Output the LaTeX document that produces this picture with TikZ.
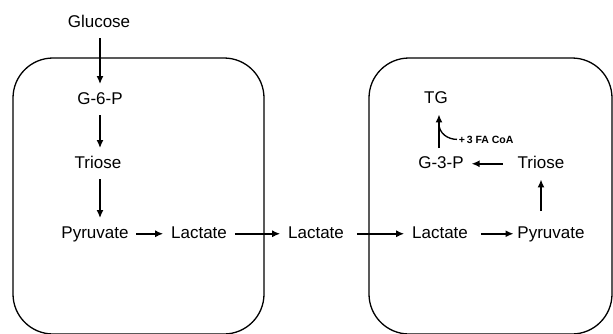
\documentclass[tikz,border=0pt]{standalone}
\usepackage{fontspec}
\setmainfont{Liberation Sans}
\usetikzlibrary{arrows.meta}
\begin{document}
\begin{tikzpicture}[x=1pt,y=-1pt,line width=1.8pt]
        \tikzstyle{metab}=[anchor=base,inner xsep=7pt,inner ysep=7pt,text height=12pt,text depth=3.5pt,font=\fontsize{17}{20}\selectfont]
        \tikzstyle{flow}=[draw,-{Latex[length=8pt,width=7pt]}]
        \tikzstyle{cell}=[draw,line width=1.3pt,rounded corners=40pt]
       \useasboundingbox (0,0) rectangle (613,333);
       \begin{scope}
         % the two cells
         \draw [cell] (13,58) rectangle (264,334);
         \draw [cell] (369,58) rectangle (612,334);
         \node [metab] (glc) at (99,27) {Glucose};
         \node [metab] (g6p) at (100,104) {G-6-P};
         \node [metab] (tri) at (98,168) {Triose};
         \node [metab] (pyr) at (95,238) {Pyruvate};
         \node [metab] (lac1) at (199,238) {Lactate};
         \node [metab] (lac2) at (316,238) {Lactate};
         \node [metab] (lac3) at (440,238) {Lactate};
         \node [metab] (pyr2) at (551,238) {Pyruvate};
         \node [metab] (tri2) at (541,168) {Triose};
         \node [metab] (g3p) at (441,168) {G-3-P};
         \node [metab] (tg) at (436,103) {TG};
         \node [anchor=base west,inner sep=1pt,font=\fontsize{10.5}{13}\selectfont\bfseries] (fa) at (457,143) {+\,3 FA CoA};
         \coordinate (br) at (439,124);
         \path[flow] (glc.south -| g6p) -- (g6p);
         \path[flow] (g6p) -- (g6p |- tri.north);
         \path[flow] (g6p |- tri.south) -- (g6p |- pyr.north);
         \path[flow] (pyr) -- (lac1);
         \path[flow] (lac1) -- (lac2);
         \path[flow, shorten <=5pt] (lac2) -- (lac3);
         \path[flow, shorten <=5pt, shorten >=-4pt] (lac3) -- (pyr2);
         \path[flow, shorten <=7pt] (tri2 |- pyr2.north) -- (tri2);
         \path[flow, shorten <=7pt] (tri2) -- (g3p);
         \path[flow] (g3p.north -| br) -- (tg.south -| br);
         \draw[line width=1.3pt] (br) to[out=-90,in=180] (fa.west);
        \end{scope}
      \end{tikzpicture}
\end{document}
